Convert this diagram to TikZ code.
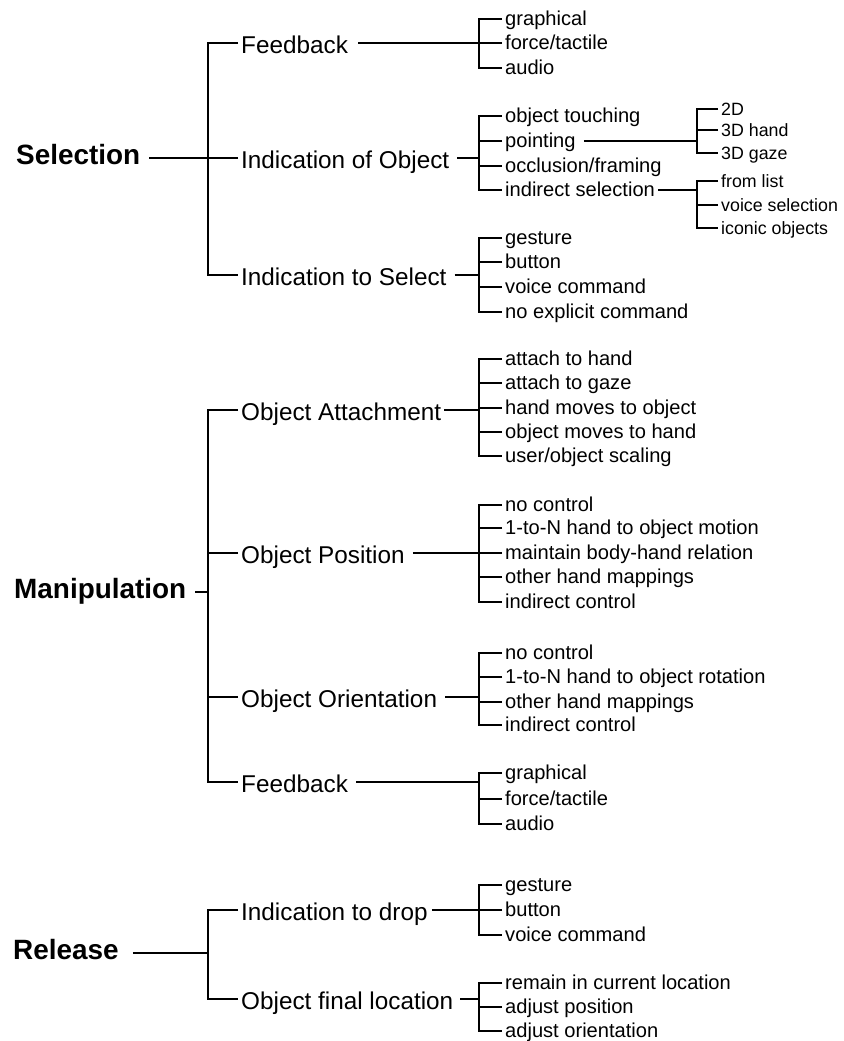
\documentclass[tikz,border=0pt]{standalone}
\usepackage{fontspec}
\setmainfont{Liberation Sans}
\begin{document}
\begin{tikzpicture}[x=1pt,y=-1pt,
  base/.style={anchor=west,inner ysep=0pt,inner xsep=3pt,text depth=0pt},
  l0/.style={base,font=\fontsize{27.9}{32}\selectfont\bfseries,text height=13pt},
  l1/.style={base,font=\fontsize{24.3}{28}\selectfont,text height=20pt},
  l2/.style={base,font=\fontsize{20.1}{24}\selectfont,text height=13pt},
  l3/.style={base,font=\fontsize{17.8}{21}\selectfont,text height=13pt},
  wbr/.style={line width=1.8pt},
  wln/.style={line width=1.1pt}]
\useasboundingbox (0,0) rectangle (843,1041);
\coordinate (b0) at (208,0);
\coordinate (b1) at (479,0);
\coordinate (b2) at (697,0);
% level 0
\node[l0] (sel) at (13,158) {Selection};
\node[l0] (man) at (11,592) {Manipulation};
\node[l0] (rel) at (10,953) {Release};
% level 1
\node[l1] (fb1) at (238,43) {Feedback};
\node[l1] (ioo) at (238,158) {Indication of Object};
\node[l1] (its) at (238,275) {Indication to Select};
\node[l1] (oa) at (238,410) {Object Attachment};
\node[l1] (op) at (238,553) {Object Position};
\node[l1] (oo) at (238,697) {Object Orientation};
\node[l1] (fb2) at (238,782) {Feedback};
\node[l1] (itd) at (238,910) {Indication to drop};
\node[l1] (ofl) at (238,999) {Object final location};
% level 2
\node[l2] (fa1) at (502,19) {graphical};
\node[l2] (fa2) at (502,43) {force/tactile};
\node[l2] (fa3) at (502,68) {audio};
\node[l2] (io1) at (502,116) {object touching};
\node[l2] (io2) at (502,141) {pointing};
\node[l2] (io3) at (502,166) {occlusion/framing};
\node[l2] (io4) at (502,190) {indirect selection};
\node[l2] (is1) at (502,238) {gesture};
\node[l2] (is2) at (502,262) {button};
\node[l2] (is3) at (502,287) {voice command};
\node[l2] (is4) at (502,312) {no explicit command};
\node[l2] (oa1) at (502,359) {attach to hand};
\node[l2] (oa2) at (502,383) {attach to gaze};
\node[l2] (oa3) at (502,408) {hand moves to object};
\node[l2] (oa4) at (502,432) {object moves to hand};
\node[l2] (oa5) at (502,456) {user/object scaling};
\node[l2] (op1) at (502,505) {no control};
\node[l2] (op2) at (502,528) {1-to-N hand to object motion};
\node[l2] (op3) at (502,553) {maintain body-hand relation};
\node[l2] (op4) at (502,577) {other hand mappings};
\node[l2] (op5) at (502,602) {indirect control};
\node[l2] (oo1) at (502,653) {no control};
\node[l2] (oo2) at (502,677) {1-to-N hand to object rotation};
\node[l2] (oo3) at (502,702) {other hand mappings};
\node[l2] (oo4) at (502,725) {indirect control};
\node[l2] (fc1) at (502,773) {graphical};
\node[l2] (fc2) at (502,799) {force/tactile};
\node[l2] (fc3) at (502,824) {audio};
\node[l2] (id1) at (502,885) {gesture};
\node[l2] (id2) at (502,910) {button};
\node[l2] (id3) at (502,935) {voice command};
\node[l2] (of1) at (502,983) {remain in current location};
\node[l2] (of2) at (502,1007) {adjust position};
\node[l2] (of3) at (502,1031) {adjust orientation};
% level 3
\node[l3] (pt1) at (718,109) {2D};
\node[l3] (pt2) at (718,130) {3D hand};
\node[l3] (pt3) at (718,153) {3D gaze};
\node[l3] (in1) at (718,181) {from list};
\node[l3] (in2) at (718,205) {voice selection};
\node[l3] (in3) at (718,228) {iconic objects};
% level-0 brackets
\draw[wln] ([xshift=6pt]sel.east) -- (sel.east -| b0);
\draw[wbr] (fb1.west) -- (fb1.west -| b0) -- (its.west -| b0) -- (its.west);
\draw[wln] (ioo.west) -- (ioo.west -| b0);
\draw[wln] ([xshift=6pt]man.east) -- (man.east -| b0);
\draw[wbr] (oa.west) -- (oa.west -| b0) -- (fb2.west -| b0) -- (fb2.west);
\foreach \n in {op,oo} \draw[wln] (\n.west) -- (\n.west -| b0);
\draw[wln] ([xshift=11pt]rel.east) -- (rel.east -| b0);
\draw[wbr] (itd.west) -- (itd.west -| b0) -- (ofl.west -| b0) -- (ofl.west);
% level-1 links to level-2 brackets
\draw[wbr] ([xshift=7pt]fb1.east) -- (fb1.east -| b1);
\draw[wln] ([xshift=5pt]ioo.east) -- (ioo.east -| b1);
\draw[wln] ([xshift=5pt]its.east) -- (its.east -| b1);
\draw[wbr] (oa.east) -- (oa.east -| b1);
\draw[wln] ([xshift=5pt]op.east) -- (op.east -| b1);
\draw[wln] ([xshift=5pt]oo.east) -- (oo.east -| b1);
\draw[wln] ([xshift=5pt]fb2.east) -- (fb2.east -| b1);
\draw[wbr] ([xshift=1pt]itd.east) -- (itd.east -| b1);
\draw[wln] ([xshift=4pt]ofl.east) -- (ofl.east -| b1);
% level-2 brackets
\draw[wbr] (fa1.west) -- (fa1.west -| b1) -- (fa3.west -| b1) -- (fa3.west);
\draw[wln] (fa2.west) -- (fa2.west -| b1);
\draw[wbr] (io1.west) -- (io1.west -| b1) -- (io4.west -| b1) -- (io4.west);
\foreach \n in {io2,io3} \draw[wln] (\n.west) -- (\n.west -| b1);
\draw[wbr] (is1.west) -- (is1.west -| b1) -- (is4.west -| b1) -- (is4.west);
\foreach \n in {is2,is3} \draw[wln] (\n.west) -- (\n.west -| b1);
\draw[wbr] (oa1.west) -- (oa1.west -| b1) -- (oa5.west -| b1) -- (oa5.west);
\foreach \n in {oa2,oa3,oa4} \draw[wln] (\n.west) -- (\n.west -| b1);
\draw[wbr] (op1.west) -- (op1.west -| b1) -- (op5.west -| b1) -- (op5.west);
\foreach \n in {op2,op3,op4} \draw[wln] (\n.west) -- (\n.west -| b1);
\draw[wbr] (oo1.west) -- (oo1.west -| b1) -- (oo4.west -| b1) -- (oo4.west);
\foreach \n in {oo2,oo3} \draw[wln] (\n.west) -- (\n.west -| b1);
\draw[wbr] (fc1.west) -- (fc1.west -| b1) -- (fc3.west -| b1) -- (fc3.west);
\draw[wln] (fc2.west) -- (fc2.west -| b1);
\draw[wbr] (id1.west) -- (id1.west -| b1) -- (id3.west -| b1) -- (id3.west);
\draw[wln] (id2.west) -- (id2.west -| b1);
\draw[wbr] (of1.west) -- (of1.west -| b1) -- (of3.west -| b1) -- (of3.west);
\draw[wln] (of2.west) -- (of2.west -| b1);
% level-2 links to level-3 brackets
\draw[wbr] ([xshift=5pt]io2.east) -- (io2.east -| b2);
\draw[wbr] (io4.east) -- (io4.east -| b2);
\draw[wbr] (pt1.west) -- (pt1.west -| b2) -- (pt3.west -| b2) -- (pt3.west);
\draw[wln] (pt2.west) -- (pt2.west -| b2);
\draw[wbr] (in1.west) -- (in1.west -| b2) -- (in3.west -| b2) -- (in3.west);
\draw[wln] (in2.west) -- (in2.west -| b2);
\end{tikzpicture}
\end{document}
